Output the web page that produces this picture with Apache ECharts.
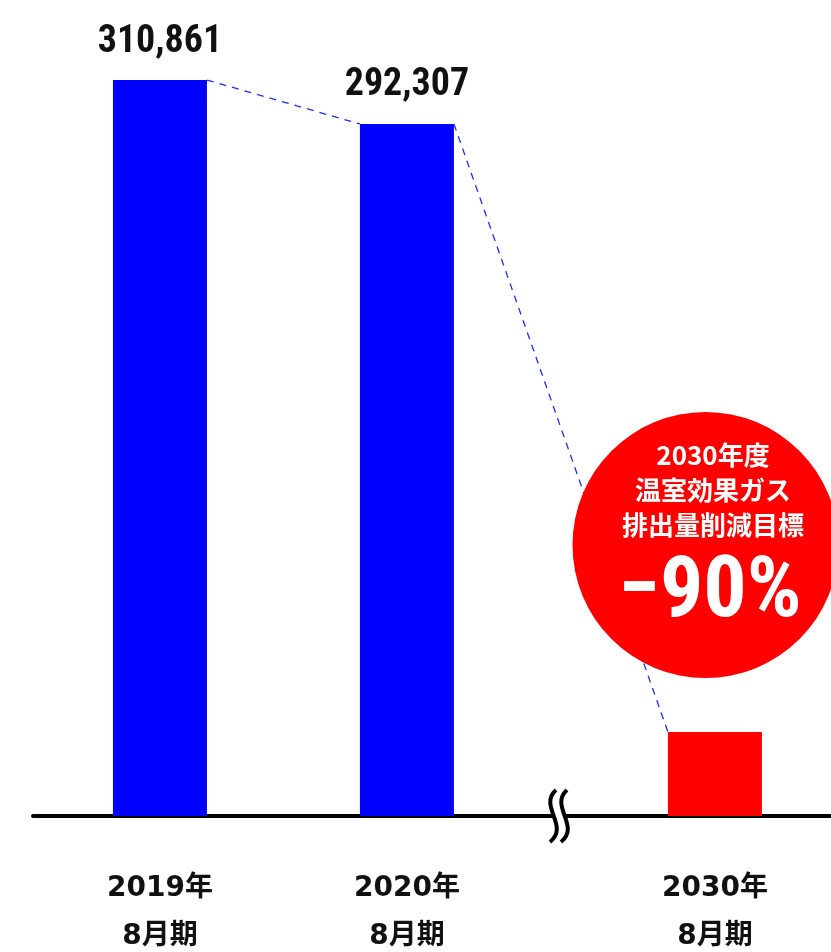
<!DOCTYPE html>
<html><head><meta charset="utf-8">
<script src="https://cdn.jsdelivr.net/npm/echarts@6/dist/echarts.min.js"></script>
<style>html,body{margin:0;padding:0;background:#fff}#c{width:831px;height:952px}</style>
</head><body><div id="c"></div>
<script>
// ---- data ----
const years = [2019, 2020, 2030];
const categoryLabels = ['2019年\n8月期', '2020年\n8月期', '2030年\n8月期'];
const values = [310861, 292307, 35500];
const valueLabels = ['310,861', '292,307', ''];
const barColors = ['#0000ff', '#0000ff', '#ff0000'];
const targetLines = ['2030年度', '温室効果ガス', '排出量削減目標'];
const targetValue = '−90%';

// ---- styles ----
const BAR_W = 94;
const NUM_FONT = '"Roboto", sans-serif';
const LABEL_FONT = '"DejaVu Sans", "Noto Sans CJK JP", sans-serif';

const chart = echarts.init(document.getElementById('c'), null, {renderer: 'canvas'});
const labelMap = {};
years.forEach((y, i) => labelMap[y] = categoryLabels[i]);

chart.setOption({
  animation: false,
  backgroundColor: '#fff',
  grid: {left: 33, right: 0, top: 58.4, bottom: 136, containLabel: false, outerBoundsMode: 'none'},
  xAxis: {
    type: 'value',
    min: 2018.486,
    max: 2030.47,
    breaks: [{start: 2020.5, end: 2029.5, gap: 0.247}],
    breakArea: {show: false},
    axisLine: {show: true, breakLine: false, lineStyle: {color: '#000', width: 4}},
    axisTick: {show: false},
    splitLine: {show: false},
    axisLabel: {
      customValues: years,
      formatter: v => labelMap[Math.round(v)] || '',
      margin: 49,
      color: '#111',
      fontFamily: LABEL_FONT,
      fontWeight: 'bold',
      fontSize: 28,
      lineHeight: 48
    }
  },
  yAxis: {type: 'value', min: 0, max: 320000, show: false},
  series: [
    {
      type: 'bar',
      barWidth: BAR_W,
      data: years.map((y, i) => ({
        value: [y, values[i]],
        itemStyle: {color: barColors[i]},
        label: {show: !!valueLabels[i]}
      })),
      label: {
        position: 'top',
        distance: 19,
        formatter: p => valueLabels[p.dataIndex],
        color: '#111',
        fontFamily: NUM_FONT,
        fontWeight: 'bold condensed',
        fontSize: 38
      },
      z: 2
    },
    {
      type: 'custom',
      data: years.map((y, i) => [y, values[i]]),
      encode: {x: 0, y: 1},
      z: 3,
      renderItem: (params, api) => {
        const i = params.dataIndex;
        if (i >= years.length - 1) return null;
        const a = api.coord([years[i], values[i]]);
        const b = api.coord([years[i + 1], values[i + 1]]);
        return {
          type: 'line',
          shape: {x1: a[0] + BAR_W / 2, y1: a[1], x2: b[0] - BAR_W / 2, y2: b[1]},
          style: {stroke: '#1f2dff', lineWidth: 1.3, lineDash: [7, 6]}
        };
      }
    }
  ],
  graphic: [
    {type: 'rect', shape: {x: 553, y: 810, width: 13, height: 12}, style: {fill: '#fff'}, z: 50},
    {type: 'bezierCurve', shape: {x1: 556, y1: 790, cpx1: 538, cpy1: 806, cpx2: 570, cpy2: 826, x2: 550, y2: 842}, style: {stroke: '#000', lineWidth: 4, fill: null}, z: 51},
    {type: 'bezierCurve', shape: {x1: 567, y1: 790, cpx1: 549, cpy1: 806, cpx2: 581, cpy2: 826, x2: 561, y2: 842}, style: {stroke: '#000', lineWidth: 4, fill: null}, z: 51},
    {type: 'circle', shape: {cx: 705.5, cy: 545, r: 133}, style: {fill: '#ff0000'}, z: 100},
    {type: 'text', x: 713, y: 490, z: 101, style: {
      text: targetLines.join('\n'), fill: '#fff', align: 'center', verticalAlign: 'middle',
      font: 'bold 26px "Noto Sans CJK JP"', lineHeight: 35}},
    {type: 'text', x: 710, y: 594, z: 101, style: {
      text: targetValue, fill: '#fff', align: 'center', verticalAlign: 'middle',
      font: 'bold condensed 86px Roboto'}}
  ]
});
</script></body></html>
